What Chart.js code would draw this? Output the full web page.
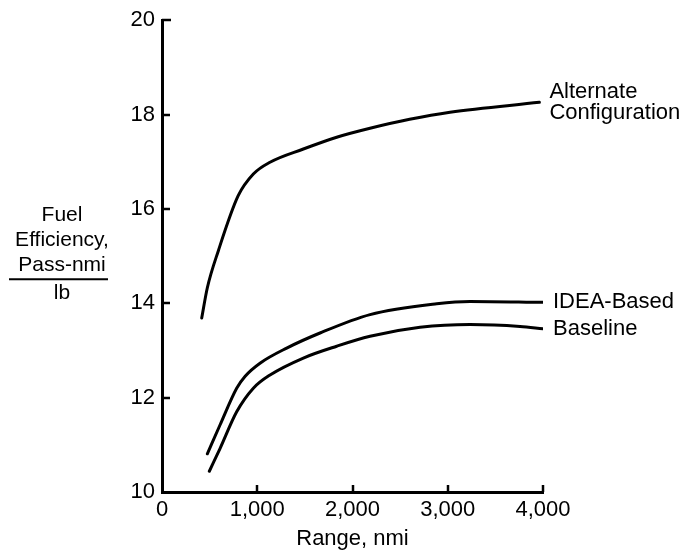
<!DOCTYPE html>
<html>
<head>
<meta charset="utf-8">
<script src="https://cdn.jsdelivr.net/npm/chart.js@4/dist/chart.umd.min.js"></script>
<style>
  html, body { margin: 0; padding: 0; background: #fff; }
  #wrap { width: 698px; height: 554px; }
</style>
</head>
<body>
<div id="wrap"><canvas id="chart" width="698" height="554"></canvas></div>
<script>
// ------------- Dados -------------
const altRange  = [417, 476, 591, 800, 959, 1134, 1484, 1834, 2184, 2600, 3024, 3962];
const altFuel   = [13.69, 14.33, 15.11, 16.28, 16.74, 16.99, 17.27, 17.52, 17.71, 17.9, 18.05, 18.26];

const ideaRange = [476, 609, 784, 871, 1029, 1309, 1659, 2184, 2884, 3234, 4000];
const ideaFuel  = [10.81, 11.42, 12.20, 12.45, 12.73, 13.05, 13.37, 13.76, 13.99, 14.04, 14.02];

const baseRange = [497, 609, 784, 959, 1134, 1484, 1834, 2184, 2709, 3234, 3759, 4000];
const baseFuel  = [10.44, 10.92, 11.70, 12.20, 12.48, 12.84, 13.09, 13.30, 13.49, 13.55, 13.51, 13.46];

const seriesNames = [['Alternate', 'Configuration'], ['IDEA-Based'], ['Baseline']];
const yTitleLines = ['Fuel', 'Efficiency,', 'Pass-nmi', 'lb'];
const xTitle = 'Range, nmi';

const FONT = 'Liberation Sans, Arial, Helvetica, sans-serif';

// ------------- Helpers -------------
function pts(xs, ys) { return xs.map((x, i) => ({ x, y: ys[i] })); }
function fmtThousands(v) { return v === 0 ? '0' : Number(v).toLocaleString('en-US'); }

function lineSet(data) {
  return {
    data,
    borderColor: '#000',
    borderWidth: 3,
    pointRadius: 0,
    fill: false,
    cubicInterpolationMode: 'monotone',
    borderCapStyle: 'round'
  };
}

// ticks para dentro + rótulos das curvas + título do eixo y
const extras = {
  id: 'extras',
  afterDraw(chart) {
    const { ctx, chartArea: a, scales } = chart;
    ctx.save();
    ctx.strokeStyle = '#000';
    ctx.lineWidth = 2.5;
    // y ticks -> direita
    scales.y.ticks.forEach(t => {
      if (t.value === 10) return;
      const py = Math.round(scales.y.getPixelForValue(t.value));
      ctx.beginPath(); ctx.moveTo(a.left, py); ctx.lineTo(a.left + (t.value === 20 ? 9 : 8), py); ctx.stroke();
    });
    // x ticks -> cima
    scales.x.ticks.forEach(t => {
      if (t.value === 0) return;
      const px = Math.round(scales.x.getPixelForValue(t.value));
      ctx.beginPath(); ctx.moveTo(px, a.bottom); ctx.lineTo(px, a.bottom - 7); ctx.stroke();
    });

    // rótulos no fim das curvas
    ctx.fillStyle = '#000';
    ctx.font = `22px ${FONT}`;
    ctx.textAlign = 'left';
    ctx.textBaseline = 'middle';
    chart.data.datasets.forEach((ds, i) => {
      const meta = chart.getDatasetMeta(i);
      const last = meta.data[meta.data.length - 1];
      const lines = seriesNames[i];
      const lh = 21;
      const y0 = last.y - (lines.length - 1) * lh / 2;
      lines.forEach((s, k) => ctx.fillText(s, last.x + 10, y0 + k * lh));
    });

    // título do eixo y (com barra de fração)
    ctx.font = `21px ${FONT}`;
    ctx.textAlign = 'center';
    const cx = 62;
    const ys = [215, 240, 265, 293].map(v => v - 20 + a.top);
    yTitleLines.forEach((s, k) => ctx.fillText(s, cx, ys[k]));
    ctx.lineWidth = 2;
    ctx.beginPath(); ctx.moveTo(9, ys[2] + 14); ctx.lineTo(108, ys[2] + 14); ctx.stroke();
    ctx.restore();
  }
};

// ------------- Gráfico -------------
const ctx = document.getElementById('chart').getContext('2d');
new Chart(ctx, {
  type: 'line',
  data: {
    datasets: [
      lineSet(pts(altRange, altFuel)),
      lineSet(pts(ideaRange, ideaFuel)),
      lineSet(pts(baseRange, baseFuel))
    ]
  },
  options: {
    animation: false,
    responsive: false,
    layout: { padding: { left: 0, right: 155, top: 20, bottom: 0 } },
    plugins: { legend: { display: false }, tooltip: { enabled: false } },
    scales: {
      x: {
        type: 'linear',
        min: 0, max: 4000,
        afterFit: s => { s.height = 62; },
        ticks: { stepSize: 1000, padding: 5, color: '#000', font: { size: 22, family: FONT }, callback: fmtThousands, maxRotation: 0 },
        grid: { drawOnChartArea: false, drawTicks: false, color: 'transparent' },
        border: { display: true, color: '#000', width: 3 },
        title: { display: true, text: xTitle, color: '#000', font: { size: 22, family: FONT }, padding: { top: 0, bottom: 2 } }
      },
      y: {
        type: 'linear',
        min: 10, max: 20,
        afterFit: s => { s.width = 162; },
        ticks: { stepSize: 2, padding: 7, color: '#000', font: { size: 22, family: FONT } },
        grid: { drawOnChartArea: false, drawTicks: false, color: 'transparent' },
        border: { display: true, color: '#000', width: 3 }
      }
    }
  },
  plugins: [extras]
});
</script>
</body>
</html>
